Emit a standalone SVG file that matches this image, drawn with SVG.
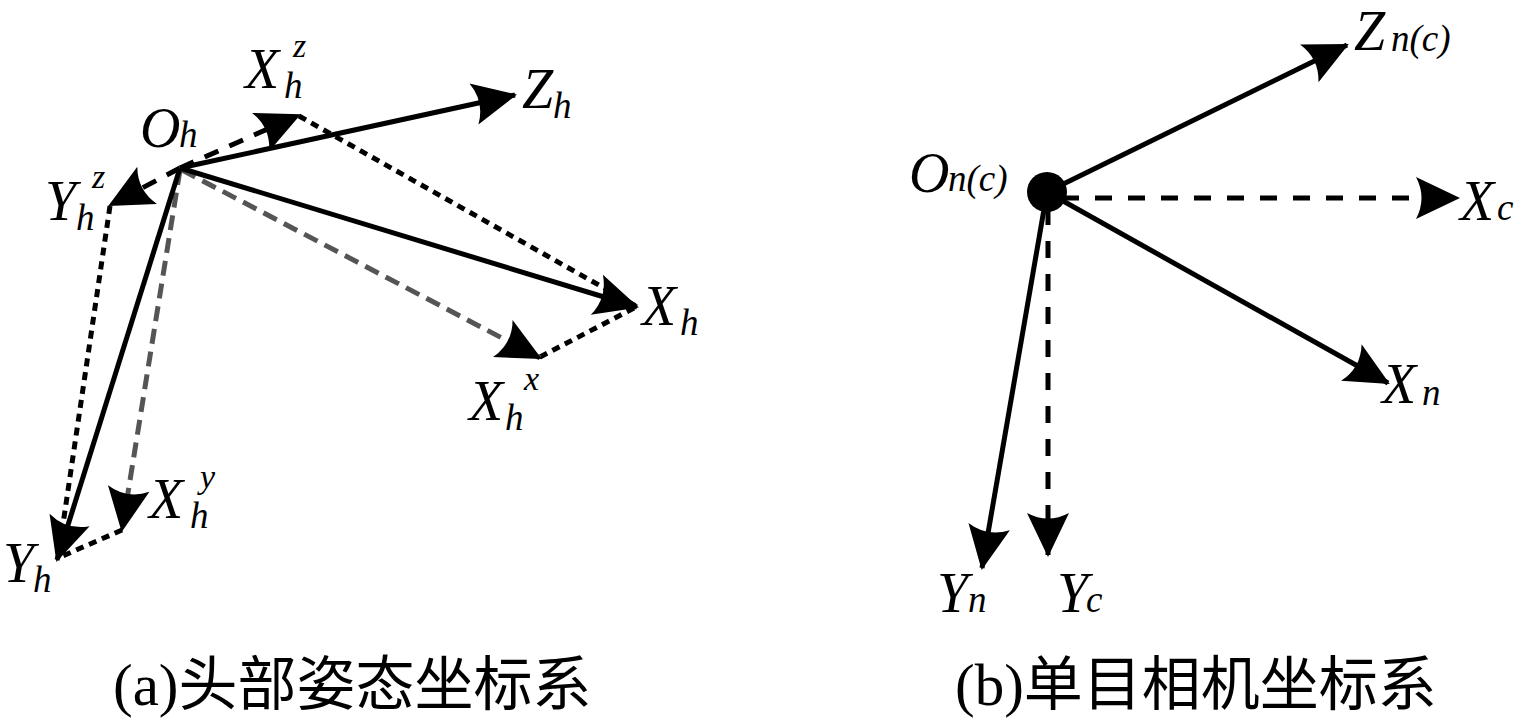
<svg xmlns="http://www.w3.org/2000/svg" width="1520" height="722" viewBox="0 0 1520 722">
<style>
.lbl{font-family:'Liberation Serif','Times New Roman',Times,'DejaVu Serif',serif;font-style:italic;fill:#000}
.big{font-size:56px}
.sm{font-size:37px}
.sup{font-size:34px}
.cap{font-family:'Liberation Serif','Times New Roman',Times,'DejaVu Serif','Noto Sans CJK SC',serif;font-size:59px;fill:#000}
.solid{stroke:#000;stroke-width:5;fill:none}
.dash{stroke:#000;stroke-width:5;fill:none;stroke-dasharray:15 12}
.dashR{stroke:#000;stroke-width:5;fill:none;stroke-dasharray:17 16}
.gray{stroke:#555;stroke-width:5;fill:none;stroke-dasharray:15 8}
.dot{stroke:#000;stroke-width:5;fill:none;stroke-dasharray:8 6}
</style>
<defs>
<marker id="ah" markerUnits="userSpaceOnUse" markerWidth="60" markerHeight="60" refX="0" refY="0" orient="auto" overflow="visible">
<path d="M2,0 L-42,-21 Q-31,0 -42,21 Z" fill="#000"/>
</marker>
</defs>
<rect width="1520" height="722" fill="#fff"/>
<g id="connectors">
<line class="dot" x1="299" y1="116" x2="636" y2="306"/>
<line class="dot" x1="110" y1="206" x2="58" y2="558"/>
<line class="dot" x1="122" y1="530" x2="58" y2="558"/>
<line class="dot" x1="540" y1="357" x2="636" y2="307"/>
<line class="gray" x1="180" y1="170" x2="122" y2="530" marker-end="url(#ah)"/>
<line class="gray" x1="182" y1="170" x2="540" y2="358" marker-end="url(#ah)"/>
<line class="dash" x1="180" y1="168" x2="299" y2="115" marker-end="url(#ah)"/>
<line class="dash" x1="180" y1="168" x2="110" y2="205" marker-end="url(#ah)"/>
<line class="solid" x1="180" y1="168" x2="515" y2="95" marker-end="url(#ah)"/>
<line class="solid" x1="180" y1="168" x2="637" y2="307" marker-end="url(#ah)"/>
<line class="solid" x1="180" y1="168" x2="57" y2="560" marker-end="url(#ah)"/>
<line class="solid" x1="1047" y1="192" x2="1347" y2="45" marker-end="url(#ah)"/>
<line class="dashR" x1="1062" y1="198" x2="1458" y2="198" marker-end="url(#ah)"/>
<line class="solid" x1="1047" y1="192" x2="1388" y2="383" marker-end="url(#ah)"/>
<line class="solid" x1="1047" y1="192" x2="982" y2="568" marker-end="url(#ah)"/>
<line class="dashR" x1="1048" y1="208" x2="1048" y2="555" marker-end="url(#ah)"/>
</g>
<g id="node-Oh"><text class="lbl big" x="140" y="147">O</text><text class="lbl sm" x="179" y="147">h</text></g>
<g id="node-Xhz"><text class="lbl big" x="245" y="88">X</text><text class="lbl sm" x="284" y="98">h</text><text class="lbl sup" x="293" y="57">z</text></g>
<g id="node-Zh"><text class="lbl big" x="522" y="108">Z</text><text class="lbl sm" x="553" y="118">h</text></g>
<g id="node-Yhz"><text class="lbl big" x="45" y="220">Y</text><text class="lbl sm" x="76" y="230">h</text><text class="lbl sup" x="92" y="188">z</text></g>
<g id="node-Xh"><text class="lbl big" x="642" y="325">X</text><text class="lbl sm" x="680" y="335">h</text></g>
<g id="node-Xhx"><text class="lbl big" x="469" y="420">X</text><text class="lbl sm" x="505" y="430">h</text><text class="lbl sup" x="524" y="390">x</text></g>
<g id="node-Xhy"><text class="lbl big" x="149" y="518">X</text><text class="lbl sm" x="190" y="528">h</text><text class="lbl sup" x="200" y="488">y</text></g>
<g id="node-Yh"><text class="lbl big" x="3" y="582">Y</text><text class="lbl sm" x="33" y="592">h</text></g>
<g id="node-Onc"><circle cx="1047" cy="192" r="20" fill="#000"/><text class="lbl big" x="909" y="192">O</text><text class="lbl sm" x="948" y="191">n(c)</text></g>
<g id="node-Znc"><text class="lbl big" x="1354" y="50">Z</text><text class="lbl sm" x="1391" y="51">n(c)</text></g>
<g id="node-Xc"><text class="lbl big" x="1460" y="220">X</text><text class="lbl sm" x="1497" y="220">c</text></g>
<g id="node-Xn"><text class="lbl big" x="1382" y="403">X</text><text class="lbl sm" x="1422" y="405">n</text></g>
<g id="node-Yn"><text class="lbl big" x="937" y="612">Y</text><text class="lbl sm" x="968" y="612">n</text></g>
<g id="node-Yc"><text class="lbl big" x="1057" y="612">Y</text><text class="lbl sm" x="1086" y="612">c</text></g>
<g id="caption-a"><text class="cap" x="113" y="705">(a)头部姿态坐标系</text></g>
<g id="caption-b"><text class="cap" x="955" y="705">(b)单目相机坐标系</text></g>
</svg>
